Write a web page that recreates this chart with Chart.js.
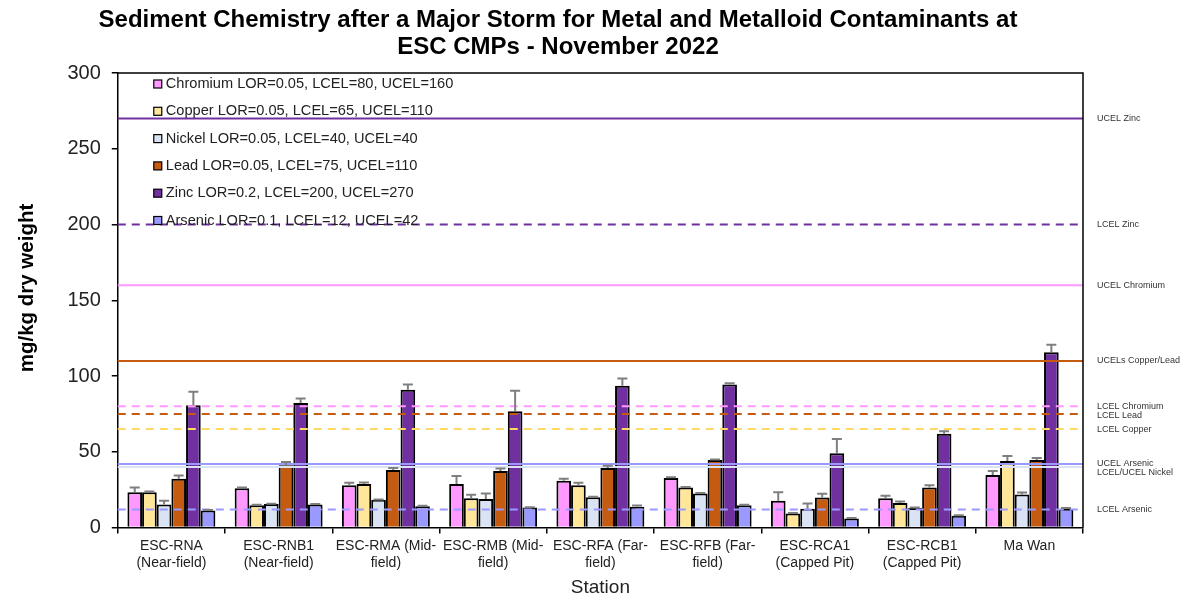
<!DOCTYPE html>
<html>
<head>
<meta charset="utf-8">
<script src="https://cdn.jsdelivr.net/npm/chart.js@4.4.1/dist/chart.umd.min.js"></script>
<style>
  body { margin: 0; background: #fff; }
  #wrap { width: 1188px; height: 599px; position: relative; }
</style>
</head>
<body>
<div id="wrap"><canvas id="sedChart"></canvas></div>
<script>
const FONT = '"Liberation Sans", Arial, sans-serif';

const stations = [
  ['ESC-RNA', '(Near-field)'], ['ESC-RNB1', '(Near-field)'], ['ESC-RMA (Mid-', 'field)'],
  ['ESC-RMB (Mid-', 'field)'], ['ESC-RFA (Far-', 'field)'], ['ESC-RFB (Far-', 'field)'],
  ['ESC-RCA1', '(Capped Pit)'], ['ESC-RCB1', '(Capped Pit)'], 'Ma Wan'
];

const legendLabels = [
  'Chromium LOR=0.05, LCEL=80, UCEL=160',
  'Copper LOR=0.05, LCEL=65, UCEL=110',
  'Nickel LOR=0.05, LCEL=40, UCEL=40',
  'Lead LOR=0.05, LCEL=75, UCEL=110',
  'Zinc LOR=0.2, LCEL=200, UCEL=270',
  'Arsenic LOR=0.1, LCEL=12, UCEL=42'
];
const metalColors = ['#ff99ff', '#ffe699', '#dae3f3', '#c55a11', '#7030a0', '#9999ff'];

// mean values per station
const chromium = [23.4, 26.0, 28.0, 28.7, 30.9, 32.7, 17.7, 19.4, 34.7];
const copper   = [23.4, 14.8, 28.7, 19.4, 28.0, 26.5, 9.3, 16.3, 43.9];
const nickel   = [15.2, 15.5, 18.3, 18.8, 20.1, 22.5, 12.4, 13.0, 21.9];
const lead     = [32.2, 41.1, 38.0, 37.3, 39.3, 44.6, 19.9, 26.5, 44.6];
const zinc     = [80.8, 82.3, 90.9, 76.8, 93.6, 94.5, 49.0, 62.0, 115.7];
const arsenic  = [11.3, 15.2, 14.1, 13.2, 13.7, 14.8, 6.0, 7.9, 12.4];

// upper error amounts
const chromiumErr = [3.1, 0.5, 1.6, 5.3, 1.3, 0.6, 5.7, 1.6, 2.6];
const copperErr   = [0.4, 0.3, 1.1, 2.2, 1.6, 0.3, 0.3, 0.9, 3.3];
const nickelErr   = [2.5, 0.3, 0.3, 3.7, 0.3, 0.3, 3.5, 0.3, 1.3];
const leadErr     = [2.2, 2.2, 1.3, 1.7, 1.5, 0.3, 2.4, 1.5, 1.3];
const zincErr     = [8.8, 2.9, 3.6, 13.5, 4.8, 0.7, 9.5, 1.6, 5.0];
const arsenicErr  = [0.3, 0.3, 0.3, 0.3, 0.9, 0.3, 0.3, 0.3, 0.6];

// guideline values
const guideValues = [270, 200, 160, 110, 80, 75, 65, 42, 40, 12];
const guideLabels = ['UCEL Zinc', 'LCEL Zinc', 'UCEL Chromium', 'UCELs Copper/Lead', 'LCEL Chromium',
  'LCEL Lead', 'LCEL Copper', 'UCEL Arsenic', 'LCEL/UCEL Nickel', 'LCEL Arsenic'];
const guideColors = ['#7030a0', '#7030a0', '#ff99ff', '#c55a11', '#ff99ff',
  '#c55a11', '#ffd966', '#9999ff', '#dae3f3', '#9999ff'];
const guideDashed = [false, true, false, false, true, true, true, false, false, true];

const yTicks = [0, 50, 100, 150, 200, 250, 300];

const means = [chromium, copper, nickel, lead, zinc, arsenic];
const errs = [chromiumErr, copperErr, nickelErr, leadErr, zincErr, arsenicErr];

// guideline lines + right-hand labels + frame
const guidePlugin = {
  id: 'guides',
  afterDatasetsDraw(chart) {
    const { ctx, chartArea: a, scales: { y } } = chart;
    ctx.save();
    guideValues.forEach((v, i) => {
      const py = y.getPixelForValue(v);
      ctx.beginPath();
      ctx.strokeStyle = guideColors[i];
      ctx.lineWidth = 2;
      ctx.setLineDash(guideDashed[i] ? [8, 6] : []);
      ctx.moveTo(a.left, py);
      ctx.lineTo(a.right, py);
      ctx.stroke();
    });
    ctx.setLineDash([]);
    ctx.strokeStyle = '#000';
    ctx.lineWidth = 1.5;
    ctx.beginPath();
    ctx.moveTo(a.left, a.top);
    ctx.lineTo(a.right, a.top);
    ctx.lineTo(a.right, a.bottom);
    ctx.stroke();

    ctx.font = '9px ' + FONT;
    ctx.fillStyle = '#333';
    ctx.textBaseline = 'middle';
    let prev = -100;
    guideValues.forEach((v, i) => {
      let py = y.getPixelForValue(v);
      if (py - prev < 8) py = prev + 9;
      prev = py;
      ctx.fillText(guideLabels[i], a.right + 14, py);
    });
    ctx.restore();
  }
};

// one-sided error bars
const errorPlugin = {
  id: 'errors',
  afterDatasetsDraw(chart) {
    const { ctx, scales: { y } } = chart;
    ctx.save();
    ctx.strokeStyle = '#7f7f7f';
    ctx.lineWidth = 2;
    chart.data.datasets.forEach((ds, di) => {
      chart.getDatasetMeta(di).data.forEach((bar, i) => {
        const top = y.getPixelForValue(ds.data[i] + errs[di][i]);
        ctx.beginPath();
        ctx.moveTo(bar.x, bar.y);
        ctx.lineTo(bar.x, top);
        ctx.moveTo(bar.x - 5, top);
        ctx.lineTo(bar.x + 5, top);
        ctx.stroke();
      });
    });
    ctx.restore();
  }
};

// in-plot legend, two-line title and y-axis title
const legendTitlePlugin = {
  id: 'legendTitle',
  afterDraw(chart) {
    const { ctx, chartArea: a } = chart;
    ctx.save();
    ctx.font = '14.6px ' + FONT;
    ctx.textBaseline = 'middle';
    chart.data.datasets.forEach((ds, i) => {
      const cy = a.top + 11 + i * 27.3;
      ctx.fillStyle = ds.backgroundColor;
      ctx.fillRect(a.left + 36, cy - 4, 8, 8);
      ctx.strokeStyle = '#000';
      ctx.lineWidth = 1.2;
      ctx.strokeRect(a.left + 36, cy - 4, 8, 8);
      ctx.fillStyle = '#222';
      ctx.fillText(ds.label, a.left + 48, cy);
    });
    ctx.font = 'bold 24px ' + FONT;
    ctx.fillStyle = '#000';
    ctx.textAlign = 'center';
    ctx.fillText('Sediment Chemistry after a Major Storm for Metal and Metalloid Contaminants at', 558, 20);
    ctx.fillText('ESC CMPs - November 2022', 558, 47);

    ctx.translate(27, 288);
    ctx.rotate(-Math.PI / 2);
    ctx.font = 'bold 20.5px ' + FONT;
    ctx.fillText('mg/kg dry weight', 0, 0);
    ctx.restore();
  }
};

new Chart(document.getElementById('sedChart'), {
  type: 'bar',
  data: {
    labels: stations,
    datasets: legendLabels.map((lbl, i) => ({
      label: lbl,
      data: means[i],
      backgroundColor: metalColors[i],
      borderColor: '#000',
      borderWidth: 2,
      categoryPercentage: 0.82,
      barPercentage: 1.0
    }))
  },
  options: {
    responsive: true,
    maintainAspectRatio: false,
    animation: false,
    devicePixelRatio: 1,
    layout: { padding: { left: 56.4, right: 105, top: 73, bottom: 0 } },
    plugins: { legend: { display: false }, title: { display: false }, tooltip: { enabled: false } },
    scales: {
      x: {
        grid: { display: true, drawOnChartArea: false, drawTicks: true, tickLength: 6, color: '#000', lineWidth: 1.5 },
        border: { display: true, color: '#000', width: 1.5 },
        ticks: { color: '#222', font: { family: FONT, size: 14 }, padding: 4, maxRotation: 0, autoSkip: false },
        title: { display: true, text: 'Station', color: '#222', font: { family: FONT, size: 19 }, padding: { top: 1, bottom: 0 } }
      },
      y: {
        min: 0,
        max: 300,
        afterBuildTicks: s => { s.ticks = yTicks.map(v => ({ value: v })); },
        grid: { display: true, drawOnChartArea: false, drawTicks: true, tickLength: 6, color: '#000', lineWidth: 1.5 },
        border: { display: true, color: '#000', width: 1.5 },
        ticks: { color: '#222', font: { family: FONT, size: 20 }, padding: 11 },
        title: { display: false }
      }
    }
  },
  plugins: [guidePlugin, errorPlugin, legendTitlePlugin]
});
</script>
</body>
</html>
